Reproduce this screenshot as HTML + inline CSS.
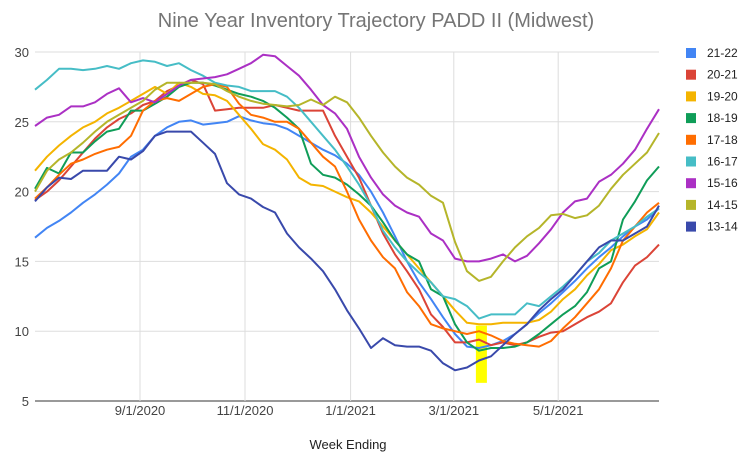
<!DOCTYPE html>
<html><head><meta charset="utf-8"><style>
body{margin:0;background:#fff;font-family:"Liberation Sans",Arial,sans-serif}
svg{display:block}
</style></head><body>
<svg id="c" width="752" height="465">
<text x="376" y="27" text-anchor="middle" font-size="20" fill="#757575">Nine Year Inventory Trajectory PADD II (Midwest)</text>
<g id="grid"></g><g id="series"></g><g id="legend"></g>
<text x="348" y="449" text-anchor="middle" font-size="13" fill="#222">Week Ending</text>
</svg>
<script>
const seriesNames=["21-22","20-21","19-20","18-19","17-18","16-17","15-16","14-15","13-14"];
const colors=["#4285f4","#db4437","#f4b400","#0f9d58","#ff6d01","#46bdc6","#ab30c4","#b5b52a","#3949ab"];
const yTicks=[5,10,15,20,25,30];
const xTickLabels=["9/1/2020","11/1/2020","1/1/2021","3/1/2021","5/1/2021"];
const xTickWeeks=[8.75,17.5,26.3,34.9,43.6];
const s2122=[16.7,17.4,17.9,18.5,19.2,19.8,20.5,21.3,22.5,23.0,24.0,24.6,25.0,25.1,24.8,24.9,25.0,25.4,25.1,24.9,24.8,24.5,24.0,23.5,23.0,22.6,22.0,21.2,20.0,18.5,16.8,15.0,13.5,12.3,11.0,9.8,8.9,8.8,9.0,9.3,9.8,10.5,11.3,12.0,12.8,13.6,14.5,15.3,16.0,16.8,17.5,18.0,18.8];
const s2021=[19.4,20.0,20.8,21.8,22.8,23.8,24.6,25.2,25.6,26.2,26.5,27.2,27.6,28.0,27.7,25.8,25.9,26.0,26.0,26.0,26.2,26.0,25.8,25.8,25.8,24.0,22.5,21.0,19.0,17.0,15.5,14.3,13.0,11.2,10.3,9.2,9.2,9.4,9.0,9.2,9.0,9.2,9.6,9.9,10.0,10.5,11.0,11.4,12.0,13.5,14.7,15.3,16.2];
const s1920=[21.5,22.5,23.3,24.0,24.6,25.0,25.6,26.0,26.5,27.0,27.5,27.0,27.8,27.5,27.0,26.9,26.5,25.5,24.5,23.4,23.0,22.3,21.0,20.5,20.4,20.0,19.6,19.3,18.5,17.5,16.5,15.5,14.5,13.5,12.5,11.5,10.6,10.5,10.5,10.6,10.6,10.6,10.8,11.4,12.3,13.0,14.0,14.8,15.8,16.2,16.8,17.3,18.5];
const s1819=[20.2,21.7,21.3,22.8,22.8,23.6,24.3,24.5,25.8,25.8,26.3,26.8,27.5,27.8,27.8,27.6,27.3,27.0,26.8,26.5,26.0,25.3,24.5,22.0,21.2,21.0,20.5,19.8,19.0,17.8,16.5,15.5,15.0,13.0,12.5,10.5,9.2,8.6,8.8,8.8,8.9,9.2,9.8,10.5,11.2,11.8,12.8,14.5,15.0,18.0,19.3,20.8,21.8];
const s1718=[19.5,20.3,21.2,22.0,22.3,22.7,23.0,23.2,24.0,25.8,26.5,26.7,26.5,27.0,27.5,27.7,27.5,26.3,25.5,25.3,25.0,25.0,24.5,23.5,22.5,21.8,20.0,18.0,16.5,15.3,14.5,12.8,11.8,10.5,10.2,10.0,9.8,10.0,9.7,9.3,9.1,9.0,8.9,9.3,10.2,11.0,12.0,13.0,14.5,16.5,17.5,18.5,19.2];
const s1617=[27.3,28.0,28.8,28.8,28.7,28.8,29.0,28.8,29.2,29.4,29.3,29.0,29.2,28.7,28.3,27.8,27.6,27.5,27.2,27.2,27.2,26.8,26.0,25.0,24.0,23.0,21.8,20.5,19.0,17.2,16.0,15.0,14.2,13.5,12.5,12.3,11.8,10.9,11.2,11.2,11.2,12.0,11.8,12.5,13.2,14.0,15.0,15.6,16.5,17.0,17.5,18.2,18.8];
const s1516=[24.7,25.3,25.5,26.1,26.1,26.4,27.0,27.4,26.4,26.7,26.4,27.0,27.6,28.0,28.1,28.2,28.4,28.8,29.2,29.8,29.7,29.0,28.3,27.3,26.2,25.6,24.5,22.5,21.0,19.8,19.0,18.5,18.2,17.0,16.5,15.2,15.0,15.0,15.2,15.5,15.0,15.4,16.3,17.3,18.5,19.3,19.5,20.7,21.2,22.0,23.0,24.5,25.9];
const s1415=[20.0,21.5,22.3,22.8,23.5,24.3,25.0,25.5,26.0,26.5,27.3,27.8,27.8,27.8,27.8,27.7,27.2,26.8,26.5,26.3,26.2,26.1,26.2,26.6,26.2,26.8,26.4,25.3,24.0,22.8,21.8,21.0,20.5,19.7,19.2,16.4,14.3,13.6,13.9,15.0,16.0,16.8,17.4,18.3,18.4,18.1,18.3,19.0,20.2,21.2,22.0,22.8,24.2];
const s1314=[19.3,20.3,21.0,20.9,21.5,21.5,21.5,22.5,22.3,22.9,24.0,24.3,24.3,24.3,23.5,22.7,20.6,19.8,19.5,18.9,18.5,17.0,16.0,15.2,14.3,13.0,11.5,10.2,8.8,9.5,9.0,8.9,8.9,8.6,7.7,7.2,7.4,7.9,8.2,9.0,9.8,10.5,11.5,12.3,13.0,14.0,15.0,16.0,16.5,16.5,17.0,17.5,19.0];
const allSeries=[s2122,s2021,s1920,s1819,s1718,s1617,s1516,s1415,s1314];
const highlightWeek=37.2, highlightLow=6.3, highlightHigh=10.4;

const X0=35,X1=659,Y0=401,Y1=52;
const xs=i=>X0+i*(X1-X0)/52;
const ys=v=>Y0-(v-5)*(Y0-Y1)/25;
const NS="http://www.w3.org/2000/svg";
function mk(tag,attrs,parent){const e=document.createElementNS(NS,tag);for(const k in attrs)e.setAttribute(k,attrs[k]);parent.appendChild(e);return e;}
const grid=document.getElementById('grid');
yTicks.forEach(t=>{
  const l=mk('line',{x1:X0,x2:X1,y1:ys(t),y2:ys(t),stroke:t===5?'#333':'#ddd','stroke-width':1},grid);
  
  
  const tx=mk('text',{x:29,y:ys(t)+5,'text-anchor':'end','font-size':13,fill:'#444'},grid);
  tx.textContent=t;
  
  
});
xTickWeeks.forEach((w,i)=>{
  const l=mk('line',{x1:xs(w),x2:xs(w),y1:Y1,y2:Y0,stroke:'#ddd','stroke-width':1},grid);
  
  
  const tx=mk('text',{x:xs(w),y:415,'text-anchor':'middle','font-size':13,fill:'#444'},grid);
  tx.textContent=xTickLabels[i];
  
  
});
const sg=document.getElementById('series');
const hr=mk('rect',{x:xs(highlightWeek)-5.5,y:ys(highlightHigh),width:11,height:ys(highlightLow)-ys(highlightHigh),fill:'#ffff00'},sg);


allSeries.forEach((d,si)=>{
  const p=mk('polyline',{points:d.map((v,i)=>xs(i).toFixed(1)+','+ys(v).toFixed(1)).join(' '),fill:'none',stroke:colors[si],'stroke-width':2,'stroke-linejoin':'round'},sg);
  
  
});
const lg=document.getElementById('legend');
seriesNames.forEach((n,i)=>{
  const y=52+i*21.7;
  const r=mk('rect',{x:686,y:y-4,width:10,height:10,fill:colors[i]},lg);
  
  
  const t=mk('text',{x:707,y:y+5,'font-size':12,fill:'#222'},lg);
  t.textContent=n;
  
  
});
</script>
</body></html>
